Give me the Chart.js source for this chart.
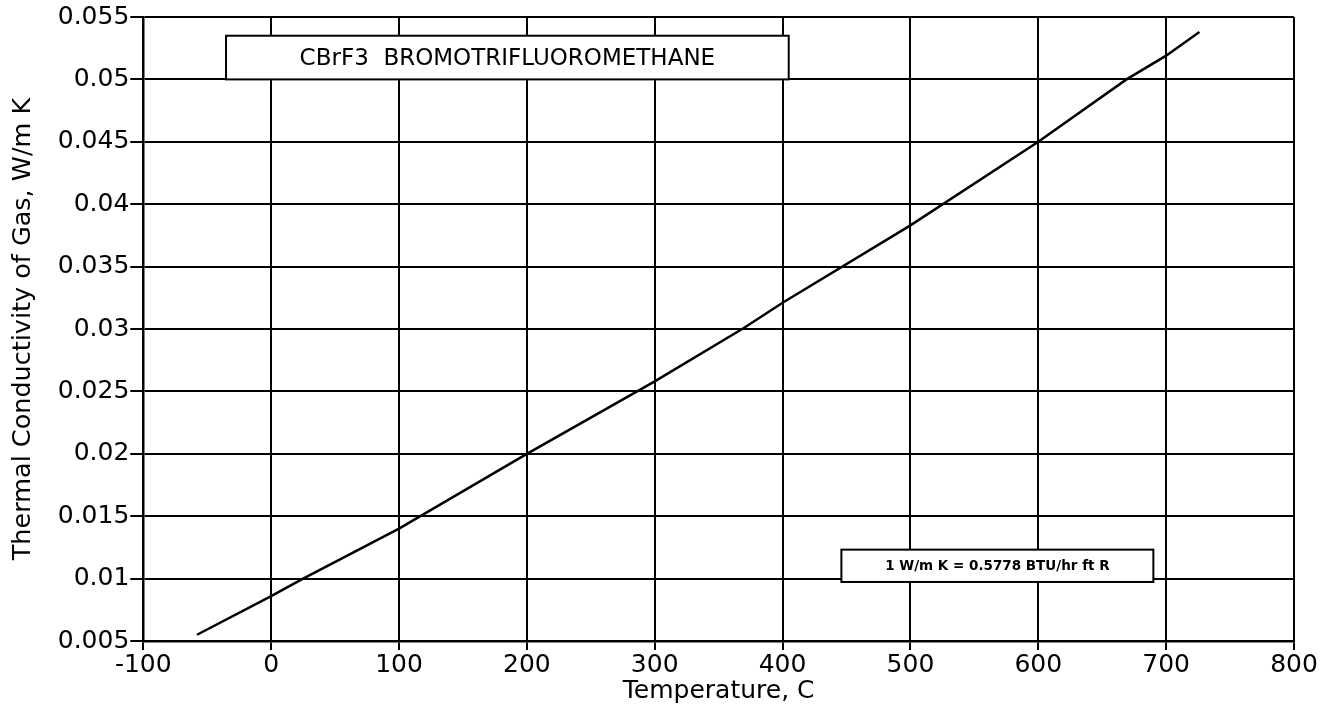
<!DOCTYPE html>
<html>
<head>
<meta charset="utf-8">
<script src="https://cdn.jsdelivr.net/npm/chart.js@4"></script>
<style>
  html, body { margin: 0; padding: 0; background: #fff; }
  #wrap { width: 1338px; height: 720px; position: relative; }
</style>
</head>
<body>
<div id="wrap"><canvas id="c" width="1338" height="720"></canvas></div>
<script>
// ---- Data ----
const temperatureC = [-58, 0, 25, 100, 200, 300, 370, 400, 500, 600, 669, 700, 726];
const conductivity = [0.0055, 0.0086, 0.0100, 0.0140, 0.0200, 0.0258, 0.0301, 0.0321, 0.0383, 0.0450, 0.0500, 0.0519, 0.0538];
const xTickValues = [-100, 0, 100, 200, 300, 400, 500, 600, 700, 800];
const yTickLabels = ['0.005', '0.01', '0.015', '0.02', '0.025', '0.03', '0.035', '0.04', '0.045', '0.05', '0.055'];
const xTitle = 'Temperature, C';
const yTitle = 'Thermal Conductivity of Gas, W/m K';
const labelTitle = 'CBrF3  BROMOTRIFLUOROMETHANE';
const labelUnits = '1 W/m K = 0.5778 BTU/hr ft R';

// ---- Styling / layout ----
const FONT = "'DejaVu Sans', sans-serif";
const boxes = [
  { text: labelTitle, x0: -35.3, x1: 404.8, y0: 0.0535, y1: 0.0500, font: '23px ' + FONT },
  { text: labelUnits, x0: 446, x1: 690, y0: 0.01232, y1: 0.00973, font: 'bold 13.5px ' + FONT }
];

const boxPlugin = {
  id: 'boxes',
  afterDatasetsDraw(chart) {
    const ctx = chart.ctx, xs = chart.scales.x, ys = chart.scales.y;
    ctx.save();
    boxes.forEach(b => {
      const l = xs.getPixelForValue(b.x0), r = xs.getPixelForValue(b.x1);
      const t = ys.getPixelForValue(b.y0), btm = ys.getPixelForValue(b.y1);
      ctx.fillStyle = '#fff';
      ctx.fillRect(l, t, r - l, btm - t);
      ctx.strokeStyle = '#000';
      ctx.lineWidth = 2;
      ctx.strokeRect(l, t, r - l, btm - t);
      ctx.fillStyle = '#000';
      ctx.font = b.font;
      ctx.textAlign = 'center';
      ctx.textBaseline = 'middle';
      ctx.fillText(b.text, (l + r) / 2, (t + btm) / 2 + 1);
    });
    ctx.restore();
  }
};

new Chart(document.getElementById('c'), {
  type: 'line',
  data: {
    datasets: [{
      data: temperatureC.map((t, i) => ({ x: t, y: conductivity[i] })),
      borderColor: '#000',
      borderWidth: 2.5,
      pointRadius: 0,
      tension: 0,
      fill: false
    }]
  },
  options: {
    responsive: false,
    animation: false,
    devicePixelRatio: 1,
    layout: { padding: { top: 17, right: 44, left: 0, bottom: 0 } },
    plugins: { legend: { display: false }, tooltip: { enabled: false } },
    scales: {
      x: {
        type: 'linear',
        min: -100, max: 800,
        afterBuildTicks: s => { s.ticks = xTickValues.map(v => ({ value: v })); },
        afterFit: s => { s.height = 79; },
        grid: { color: '#000', lineWidth: 2, tickLength: 9, drawTicks: true },
        border: { color: '#000', width: 2.5 },
        ticks: { color: '#000', font: { family: FONT, size: 25 }, padding: 0, maxRotation: 0,
                 callback: v => String(v) },
        title: { display: true, text: xTitle, color: '#000', font: { family: FONT, size: 25 },
                 padding: { top: 0, bottom: 14 } }
      },
      y: {
        type: 'linear',
        min: 0.005, max: 0.055,
        afterBuildTicks: s => { s.ticks = yTickLabels.map(l => ({ value: parseFloat(l) })); },
        afterFit: s => { s.width = 143.3; },
        grid: { color: '#000', lineWidth: 2, tickLength: 13, drawTicks: true },
        border: { color: '#000', width: 2.5 },
        ticks: { color: '#000', font: { family: FONT, size: 25 }, padding: 1,
                 callback: (v, i) => yTickLabels[i] },
        title: { display: true, text: yTitle, color: '#000', font: { family: FONT, size: 25.5 },
                 padding: { top: 8, bottom: 0 } }
      }
    }
  },
  plugins: [boxPlugin]
});
</script>
</body>
</html>
